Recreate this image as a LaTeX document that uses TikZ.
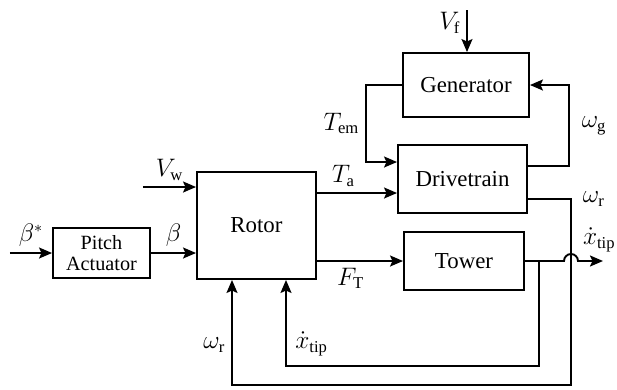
\documentclass[tikz,border=0pt]{standalone}
\usepackage{fontspec}
\setmainfont{Liberation Serif}
\usepackage{tikz}
\usetikzlibrary{arrows.meta, positioning}

\begin{document}
\begin{tikzpicture}[
      box/.style={rectangle, draw, line width=1.1pt, inner sep=0pt, align=center, font=\fontsize{13}{15}\selectfont},
      arrow/.style={-{Stealth[length=2.6mm, width=2.2mm, inset=0.5mm]}, line width=1.1pt},
      lbl/.style={font=\fontsize{13.5}{15}\selectfont}
    ]
      \useasboundingbox (0,0) rectangle (12.34,-7.78);

      % Blocks
      \node[box, minimum width=2.38cm, minimum height=2.14cm] (rotor) at (5.13,-4.51) {Rotor};
      \node[box, minimum width=1.94cm, minimum height=1.0cm, font=\fontsize{11.5}{13}\selectfont] (pitch) at (2.03,-5.06) {Pitch\\[-1pt]Actuator};
      \node[box, minimum width=2.52cm, minimum height=1.28cm] (gen) at (9.32,-1.70) {Generator};
      \node[box, minimum width=2.58cm, minimum height=1.36cm] (dt) at (9.25,-3.58) {Drivetrain};
      \node[box, minimum width=2.4cm, minimum height=1.16cm] (tower) at (9.28,-5.22) {Tower};

      % Free ends and corners
      \coordinate (bin) at (0.2,-5.06);
      \coordinate (vw) at (2.86,-3.74);
      \coordinate (vf) at (9.34,-0.2);
      \coordinate (wr) at (11.42,-7.70);
      \coordinate (br) at (10.78,-7.32);
      \coordinate (xout) at (12.06,-5.22);

      % Inputs
      \draw[arrow] (bin) -- (pitch) node[midway, above, lbl] {$\beta^{*}$};
      \draw[arrow] (pitch.east) -- (pitch.east -| rotor.west) node[midway, above, lbl] {$\beta$};
      \draw[arrow] (vw) -- (vw -| rotor.west) node[midway, above, lbl] {$V_\mathrm{w}$};
      \draw[arrow] (vf) -- (vf |- gen.north) node[pos=0.3, left, lbl] {$V_\mathrm{f}$};

      % Rotor outputs
      \draw[arrow] ([yshift=-0.28cm]dt.west -| rotor.east) -- ([yshift=-0.28cm]dt.west) node[pos=0.33, above, lbl] {$T_\mathrm{a}$};
      \draw[arrow] (tower.west -| rotor.east) -- (tower.west) node[pos=0.39, below, lbl] {$F_\mathrm{T}$};

      % Generator / drivetrain loop
      \draw[arrow] (gen.west) -- ++(-0.72,0) |- node[pos=0.25, left, lbl] {$T_\mathrm{em}$} ([yshift=0.34cm]dt.west);
      \draw[arrow] ([yshift=0.26cm]dt.east) -- ++(0.82,0) |- node[pos=0.25, right, xshift=0.12cm, lbl] {$\omega_\mathrm{g}$} (gen.east);

      % Feedback to rotor
      \draw[arrow] ([yshift=-0.4cm]dt.east) -| node[pos=0.5, right, xshift=0.1cm, lbl] {$\omega_\mathrm{r}$} (wr)
        -| node[pos=0.69, left, lbl] {$\omega_\mathrm{r}$} ([xshift=-0.49cm]rotor.south);
      \draw[arrow] (tower.east) -- ([xshift=-0.14cm]tower.east -| wr) arc[start angle=180, end angle=0, radius=0.14cm]
        -- (xout) node[pos=0.85, above, yshift=0.05cm, lbl] {$\dot{x}_\mathrm{tip}$};
      \draw[arrow] (tower.east -| br) -- (br) -| node[pos=0.63, right, xshift=0.05cm, lbl] {$\dot{x}_\mathrm{tip}$} ([xshift=0.59cm]rotor.south);

    \end{tikzpicture}
\end{document}
